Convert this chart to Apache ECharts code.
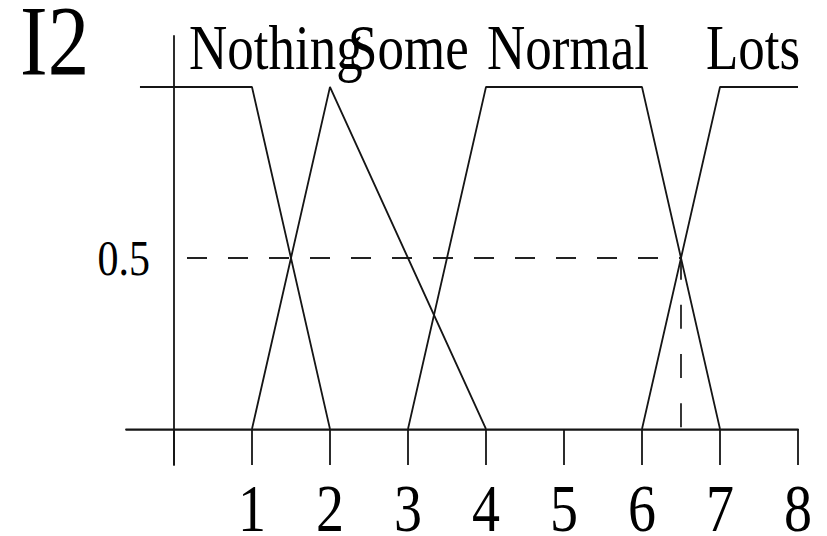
<!DOCTYPE html>
<html>
<head>
<meta charset="utf-8">
<script src="https://cdn.jsdelivr.net/npm/echarts@6/dist/echarts.min.js"></script>
<style>
  html { overflow: hidden; background: #fff; }
  body { margin: 0; padding: 0; width: 827px; height: 536px; background: #fff; }
  /* drawn in a shorter box and stretched vertically, giving the tall serif lettering */
  #chart { width: 827px; height: 446.667px; transform: scaleY(1.2); transform-origin: 0 0; }
</style>
</head>
<body>
<div id="chart"></div>
<script>
// Axis ticks and labels
const xTicks = [0, 1, 2, 3, 4, 5, 6, 7, 8];
const xLabels = [1, 2, 3, 4, 5, 6, 7, 8];
const yLabels = [0.5];

// Membership functions of the input I2
const setNames = ['Nothing', 'Some', 'Normal', 'Lots'];
const nothing = [[-0.436, 1], [1, 1], [2, 0]];
const some = [[1, 0], [2, 1], [4, 0]];
const normal = [[3, 0], [4, 1], [6, 1], [7, 0]];
const lots = [[6, 0], [7, 1], [8, 1]];

// Reading of the 0.5 level down to the crossing at 6.5
const guide = [[0.167, 0.5], [6.5, 0.5], [6.5, 0]];

const title = 'I2';

const ink = '#151515';
const serif = '"Liberation Serif", "DejaVu Serif", serif';

const chart = echarts.init(document.getElementById('chart'), null, { renderer: 'svg' });

function curve(name, data) {
  return {
    name: name,
    type: 'line',
    data: data,
    showSymbol: false,
    symbol: 'none',
    silent: true,
    lineStyle: { color: ink, width: 1.8 },
    z: 3
  };
}

// word positions (left x, vertical centre of capitals) in the drawing box
const wordPos = [[189, 39.5], [348, 39.5], [487, 39.5], [706, 39.5]];

// grid edges: the axes cross at (0, 0), inside the grid
const gridLeft = 126, gridTop = 30, gridWidth = 672, gridHeight = 357.5;
const xMin = -0.615, xMax = 8, yMin = -0.105, yMax = 1.149;
const yAxisShift = gridWidth * (0 - xMin) / (xMax - xMin);
const xAxisShift = gridHeight * (0 - yMin) / (yMax - yMin);

chart.setOption({
  animation: false,
  backgroundColor: '#fff',
  grid: {
    left: gridLeft, top: gridTop, width: gridWidth, height: gridHeight,
    containLabel: false, outerBoundsMode: 'none'
  },
  xAxis: {
    type: 'value',
    min: xMin,
    max: xMax,
    position: 'bottom',
    offset: -xAxisShift,
    splitLine: { show: false },
    axisLine: { show: true, onZero: false, lineStyle: { color: ink, width: 1.8 } },
    axisTick: { show: true, inside: false, length: 30, customValues: xTicks, lineStyle: { color: ink, width: 1.8 } },
    axisLabel: {
      show: true,
      customValues: xLabels,
      margin: 44,
      fontSize: 56,
      lineHeight: 44,
      fontFamily: serif,
      color: '#000'
    }
  },
  yAxis: {
    type: 'value',
    min: yMin,
    max: yMax,
    position: 'left',
    offset: -yAxisShift,
    splitLine: { show: false },
    axisLine: { show: true, onZero: false, lineStyle: { color: ink, width: 1.8 } },
    axisTick: { show: false },
    axisLabel: {
      show: true,
      customValues: yLabels,
      margin: 24,
      fontSize: 42,
      fontFamily: serif,
      color: '#000'
    }
  },
  graphic: [
    {
      type: 'text',
      x: 20,
      y: 34,
      style: {
        text: title, font: '83px ' + serif, lineHeight: 60,
        fill: '#000', verticalAlign: 'middle', align: 'left'
      }
    }
  ].concat(setNames.map(function (n, i) {
    return {
      type: 'text',
      x: wordPos[i][0],
      y: wordPos[i][1],
      style: { text: n, font: '53px ' + serif, fill: '#000', verticalAlign: 'middle', align: 'left' }
    };
  })),
  series: [
    curve(setNames[0], nothing),
    curve(setNames[1], some),
    curve(setNames[2], normal),
    curve(setNames[3], lots),
    {
      name: 'guide',
      type: 'line',
      data: guide,
      showSymbol: false,
      symbol: 'none',
      silent: true,
      lineStyle: { color: '#222', width: 1.8, type: [20, 21] },
      z: 2
    }
  ]
});
</script>
</body>
</html>
